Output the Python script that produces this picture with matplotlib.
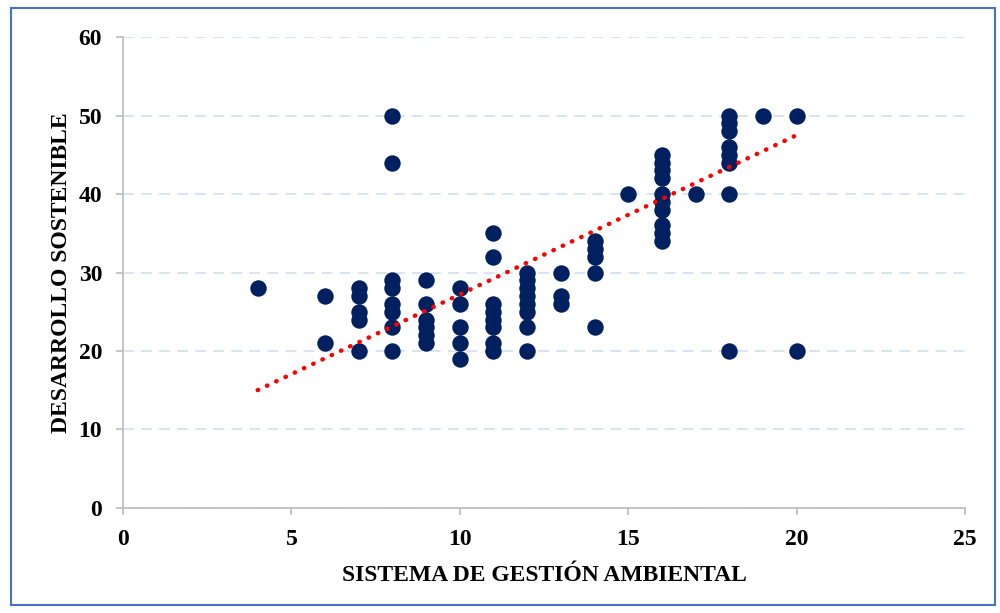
import numpy as np
import matplotlib
matplotlib.use('Agg')
import matplotlib.pyplot as plt
from matplotlib.patches import Rectangle

# puntos: (sistema de gestion ambiental, desarrollo sostenible)
sga = [4,
       6, 6,
       7, 7, 7, 7, 7,
       8, 8, 8, 8, 8, 8, 8, 8,
       9, 9, 9, 9, 9, 9,
       10, 10, 10, 10, 10,
       11, 11, 11, 11, 11, 11, 11, 11,
       12, 12, 12, 12, 12, 12, 12, 12,
       13, 13, 13,
       14, 14, 14, 14, 14,
       15,
       16, 16, 16, 16, 16, 16, 16, 16, 16, 16,
       17,
       18, 18, 18, 18, 18, 18, 18, 18,
       19,
       20, 20]
ds = [28,
      27, 21,
      28, 27, 25, 24, 20,
      50, 44, 29, 28, 26, 25, 23, 20,
      29, 26, 24, 23, 22, 21,
      28, 26, 23, 21, 19,
      35, 32, 26, 25, 24, 23, 21, 20,
      30, 29, 28, 27, 26, 25, 23, 20,
      30, 27, 26,
      34, 33, 32, 30, 23,
      40,
      45, 44, 43, 42, 40, 39, 38, 36, 35, 34,
      40,
      50, 49, 48, 46, 45, 44, 40, 20,
      50,
      50, 20]

# linea de tendencia (los datos originales tienen repetidos)
trend_slope = 2.03
trend_intercept = 6.9

x_ticks = [0, 5, 10, 15, 20, 25]
y_ticks = [0, 10, 20, 30, 40, 50, 60]

plt.rcParams['font.family'] = ['Liberation Serif', 'DejaVu Serif']

fig = plt.figure(figsize=(10, 6.13), dpi=100)
fig.patches.append(Rectangle((0.011, 0.013), 0.984, 0.974, transform=fig.transFigure,
                             fill=False, edgecolor='#4472C4', linewidth=1.5))
ax = fig.add_axes([0.123, 0.1713, 0.842, 0.7683])

ax.scatter(sga, ds, s=140, color='#002060', zorder=3, linewidths=0)

xs = np.array([min(sga), max(sga)])
ax.plot(xs, trend_slope * xs + trend_intercept, color='#FF0000', linestyle=(0, (0.1, 2.2)),
        linewidth=3.2, dash_capstyle='round', zorder=4)

ax.set_xlim(0, 25)
ax.set_ylim(0, 60)
ax.set_xticks(x_ticks)
ax.set_yticks(y_ticks)
ax.grid(axis='y', color='#D6E0F0', linestyle=(0, (6, 4)), linewidth=1.3)
ax.set_axisbelow(True)
for s in ['top', 'right']:
    ax.spines[s].set_visible(False)
for s in ['left', 'bottom']:
    ax.spines[s].set_color('#BFBFBF')
    ax.spines[s].set_linewidth(1.3)
ax.tick_params(colors='#BFBFBF', labelcolor='black', length=5, width=1.3)
ax.tick_params(axis='x', pad=10)
ax.tick_params(axis='y', pad=10)
for lab in ax.get_xticklabels() + ax.get_yticklabels():
    lab.set_fontsize(17)
    lab.set_fontweight('bold')

ax.set_xlabel('SISTEMA DE GESTIÓN AMBIENTAL', fontsize=17, fontweight='bold', labelpad=11)
ax.set_ylabel('DESARROLLO SOSTENIBLE', fontsize=17, fontweight='bold', labelpad=5)

fig.savefig('out.png', dpi=100)
